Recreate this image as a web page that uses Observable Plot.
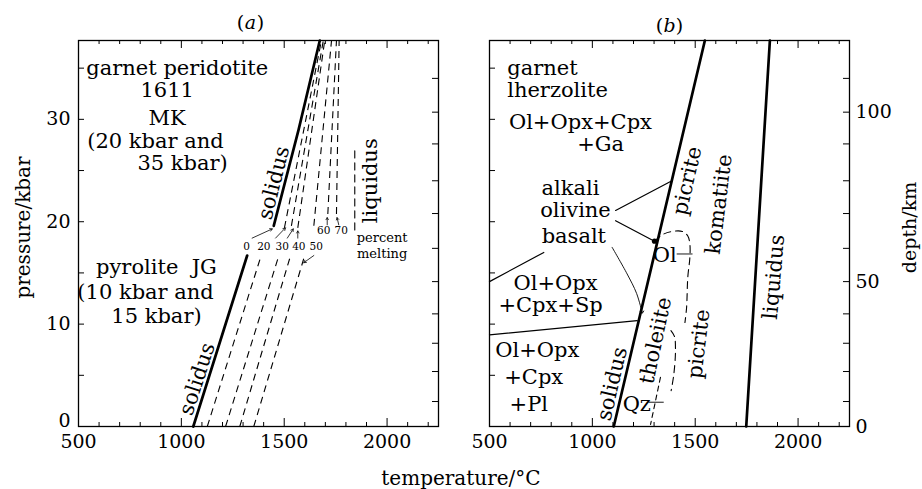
<!DOCTYPE html>
<html><head><meta charset="utf-8">
<script src="https://cdn.jsdelivr.net/npm/d3@7"></script>
<script src="https://cdn.jsdelivr.net/npm/@observablehq/plot@0.6"></script>
<style>
body{margin:0;background:#fff;}
#wrap{position:relative;width:922px;height:489px;background:#fff;font-family:"DejaVu Serif",serif;color:#000;}
#wrap svg{position:absolute;top:0;}
#xlab{position:absolute;left:0;width:922px;top:467px;text-align:center;font-size:20px;line-height:22px;}
</style></head>
<body><div id="wrap"><div id="xlab">temperature/°C</div></div>
<script>
// ---------- axes / ticks ----------
const tempDomain = [500, 2250];
const presDomain = [0, 37.7];
const tempLabels = [500, 1000, 1500, 2000];
const tempMajor = [1000, 1500, 2000];
const tempMinor = [600, 700, 800, 900, 1100, 1200, 1300, 1400, 1600, 1700, 1800, 1900, 2100, 2200];
const presTicks = [5, 10, 15, 20, 25, 30, 35];
const presLabels = [10, 20, 30];
const presZeroLabel = [0];
const depthKm = [0, 10, 20, 30, 40, 50, 60, 70, 80, 90, 100, 110];
const depthKbar = [0, 2.44, 5.37, 8.13, 11.0, 14.15, 17.4, 20.8, 24.0, 27.6, 30.7, 34.0];
const depthLabels = [0, 50, 100];

// ---------- panel (a) ----------
const solidusJG = [[1058, 0], [1320, 16.7]];
const solidusMK = [[1449, 19.6], [1570, 29], [1673, 37.7]];
const jgPct = [20, 30, 40, 50];
const jgBaseT = [1126, 1215, 1284, 1352];
const jgTopT = [1388, 1474, 1531, 1595];
const jgTopP = [16.7, 16.7, 16.7, 16.4];
const mkPct = [20, 30, 40, 50, 60, 70];
const mkLowT = [1501, 1535, 1566, 1644, 1712, 1754];
const mkLowP = [19.4, 19.6, 19.4, 19.6, 20.75, 20.75];
const mkTopT = [1681, 1690, 1697, 1730, 1754, 1767];
const liquidusA = [[1843, 19.2], [1843, 27.3]];
const pctLabels = ["0", "20", "30", "40", "50", "60", "70"];
const pctLabelT = [1317, 1401, 1490, 1571, 1656, 1692, 1777];
const pctLabelP = [17.56, 17.56, 17.56, 17.56, 17.56, 19.1, 19.1];
const pctArrowFrom = [[1344, 18.4], [1458, 18.4], [1515, 18.4], [1566, 18.4], [1644, 16.7], [1709, 19.7], [1765, 19.7]];
const pctArrowTo = [[1442, 19.3], [1506, 19.4], [1544, 19.3], [1566, 19.1], [1595, 16.0], [1709, 20.4], [1757, 20.4]];
const textA = [
  {t: "garnet peridotite", T: 980, P: 35.0},
  {t: "1611", T: 931, P: 32.8},
  {t: "MK", T: 931, P: 30.1},
  {t: "(20 kbar and", T: 874, P: 27.9},
  {t: "35 kbar)", T: 1006, P: 25.7},
  {t: "pyrolite  JG", T: 879, P: 15.6},
  {t: "(10 kbar and", T: 826, P: 13.1},
  {t: "15 kbar)", T: 879, P: 10.8}
];
const rotTextA = [
  {t: "solidus", T: 1449, P: 23.8, r: -76},
  {t: "solidus", T: 1077, P: 4.65, r: -72},
  {t: "liquidus", T: 1920, P: 24.0, r: -90}
];
const smallTextA = [{t: "percent", T: 1976, P: 18.47}, {t: "melting", T: 1976, P: 16.85}];

// ---------- panel (b) ----------
const solidusB = [[1104, 0], [1547, 37.7]];
const liquidusB = [[1748, 0], [1863, 37.7]];
const gtSpLeft = [[500, 14.15], [764, 17.0]];
const gtSpRight = [[1113, 21.1], [1387, 24.0]];
const olPointer = [[1113, 20.1], [1302, 18.1]];
const olDot = [[1302, 18.1]];
const spPl = [[500, 8.95], [1218, 10.34]];
const basaltPointer = [[1096, 17.5], [1169, 14.9], [1215, 13.0], [1242, 11.15]];
const olCurve = [[1302, 18.1], [1347, 18.8], [1388, 19.05], [1437, 19.05], [1464, 18.6], [1474, 17.8], [1474, 16.5], [1464, 14.6], [1458, 11.6], [1450, 10.15]];
const picCurve = [[1382, 9.37], [1399, 8.8], [1404, 7.4], [1396, 5.1], [1383, 3.5]];
const qzCurve = [[1331, 4.8], [1283, 0.2]];
const olLeader = [[1412, 16.85], [1485, 16.85]];
const qzLeader = [[1274, 2.37], [1345, 2.37]];
const textB = [
  {t: "Ol+Opx+Cpx", T: 942, P: 29.75},
  {t: "+Ga", T: 1040, P: 27.55},
  {t: "alkali", T: 894, P: 23.3},
  {t: "olivine", T: 918, P: 21.1},
  {t: "basalt", T: 910, P: 18.6},
  {t: "Ol+Opx", T: 821, P: 13.95},
  {t: "+Cpx+Sp", T: 797, P: 11.8},
  {t: "Ol+Opx", T: 732, P: 7.4},
  {t: "+Cpx", T: 715, P: 4.8},
  {t: "+Pl", T: 691, P: 2.2},
  {t: "Ol", T: 1352, P: 16.7},
  {t: "Qz", T: 1216, P: 2.2}
];
const textBLeft = [{t: "garnet", T: 586, P: 35.0}, {t: "lherzolite", T: 586, P: 32.8}];
const rotTextB = [
  {t: "picrite", T: 1461, P: 24.0, r: -77},
  {t: "komatiite", T: 1615, P: 21.7, r: -83},
  {t: "tholeiite", T: 1307, P: 8.4, r: -78},
  {t: "picrite", T: 1517, P: 8.07, r: -83},
  {t: "liquidus", T: 1882, P: 14.6, r: -85},
  {t: "solidus", T: 1096, P: 4.17, r: -77}
];

// ---------- helpers ----------
const FONT = "DejaVu Serif";
const innerW = 360, innerH = 386;
const X = d => d[0], Y = d => d[1];
function frameMarks() {
  return [
    Plot.frame({strokeWidth: 1.3}),
    Plot.tickX(tempMinor, {x: d => d, insetTop: innerH - 4}),
    Plot.tickX(tempMajor, {x: d => d, insetTop: innerH - 8}),
    Plot.tickX(tempMinor, {x: d => d, insetBottom: innerH - 4}),
    Plot.tickX(tempMajor, {x: d => d, insetBottom: innerH - 8}),
    Plot.tickY(presTicks, {y: d => d, insetRight: innerW - 6}),
    Plot.tickY(depthKbar.slice(1), {y: d => d, insetLeft: innerW - 6}),
    Plot.axisX({ticks: tempLabels, anchor: "bottom", tickSize: 0, tickPadding: 8, fontSize: 19, fontFamily: FONT, label: null, tickFormat: d => String(d)})
  ];
}
function panel(ml, mr, marks) {
  return Plot.plot({
    width: 461, height: 489, marginLeft: ml, marginRight: mr, marginTop: 40, marginBottom: 63,
    x: {domain: tempDomain},
    y: {domain: presDomain},
    style: {fontFamily: FONT, fontSize: "18px", color: "black", background: "transparent", overflow: "visible"},
    marks
  });
}
function title(letter, dx, dy) {
  const o = {text: d => d, frameAnchor: "top", dy, fontSize: 19, fontFamily: FONT, lineAnchor: "middle", textAnchor: "middle"};
  return [
    Plot.text(["("], {...o, dx: dx - 10}),
    Plot.text([letter], {...o, dx, fontStyle: "italic"}),
    Plot.text([")"], {...o, dx: dx + 10})
  ];
}

// ---------- panel (a) ----------
const jgSegs = jgPct.map((p, i) => ({x1: jgBaseT[i], y1: 0, x2: jgTopT[i], y2: jgTopP[i]}));
const mkSegs = mkPct.map((p, i) => ({x1: mkLowT[i], y1: mkLowP[i], x2: mkTopT[i], y2: presDomain[1]}));
const pctData = pctLabels.map((t, i) => ({t, T: pctLabelT[i], P: pctLabelP[i],
  x1: pctArrowFrom[i][0], y1: pctArrowFrom[i][1], x2: pctArrowTo[i][0], y2: pctArrowTo[i][1]}));

const plotA = panel(78, 23, [
  ...frameMarks(),
  Plot.axisY({ticks: presLabels, anchor: "left", tickSize: 0, tickPadding: 8, fontSize: 19, fontFamily: FONT, label: null}),
  Plot.axisY({ticks: presZeroLabel, anchor: "left", tickSize: 0, tickPadding: 8, dy: -6, fontSize: 19, fontFamily: FONT, label: null}),
  Plot.line(solidusJG, {x: X, y: Y, strokeWidth: 2.7}),
  Plot.line(solidusMK, {x: X, y: Y, strokeWidth: 2.7}),
  Plot.link(jgSegs, {x1: "x1", y1: "y1", x2: "x2", y2: "y2", strokeWidth: 1.1, strokeDasharray: "7,5"}),
  Plot.link(mkSegs, {x1: "x1", y1: "y1", x2: "x2", y2: "y2", strokeWidth: 1.1, strokeDasharray: "7,5"}),
  Plot.line(liquidusA, {x: X, y: Y, strokeWidth: 1.1, strokeDasharray: "7,5"}),
  Plot.arrow(pctData, {x1: "x1", y1: "y1", x2: "x2", y2: "y2", strokeWidth: 0.8, headLength: 5,
    strokeDasharray: (d, i) => i === 0 ? "3,2" : null}),
  Plot.text(pctData, {x: "T", y: "P", text: "t", fontSize: 10.5, fontFamily: FONT}),
  Plot.text(smallTextA, {x: "T", y: "P", text: "t", fontSize: 13, fontFamily: FONT}),
  Plot.text(textA, {x: "T", y: "P", text: "t", fontSize: 21, fontFamily: FONT}),
  Plot.text(rotTextA, {x: "T", y: "P", text: "t", rotate: "r", fontSize: 21, fontFamily: FONT}),
  ...title("a", -8, -18),
  Plot.text(["pressure/kbar"], {text: d => d, frameAnchor: "left", textAnchor: "middle", lineAnchor: "middle", dx: -55, dy: -6, rotate: -90, fontSize: 20, fontFamily: FONT})
]);

// ---------- panel (b) ----------
const plotB = panel(28, 73, [
  ...frameMarks(),
  Plot.axisY({ticks: depthLabels.map(k => depthKbar[depthKm.indexOf(k)]), anchor: "right", tickSize: 0, tickPadding: 6,
    fontSize: 19, fontFamily: FONT, label: null, tickFormat: p => String(depthKm[depthKbar.indexOf(p)])}),
  Plot.line(solidusB, {x: X, y: Y, strokeWidth: 2.7}),
  Plot.line(liquidusB, {x: X, y: Y, strokeWidth: 2.7}),
  Plot.line(gtSpLeft, {x: X, y: Y, strokeWidth: 1.2}),
  Plot.line(gtSpRight, {x: X, y: Y, strokeWidth: 1.2}),
  Plot.line(olPointer, {x: X, y: Y, strokeWidth: 1.2}),
  Plot.line(spPl, {x: X, y: Y, strokeWidth: 1.2}),
  Plot.line(basaltPointer, {x: X, y: Y, strokeWidth: 0.9, curve: "catmull-rom", markerEnd: "arrow"}),
  Plot.dot(olDot, {x: X, y: Y, r: 2.6, fill: "black"}),
  Plot.line(olCurve, {x: X, y: Y, strokeWidth: 1.1, curve: "catmull-rom", strokeDasharray: "7,5"}),
  Plot.line(picCurve, {x: X, y: Y, strokeWidth: 1.1, curve: "catmull-rom", strokeDasharray: "7,5"}),
  Plot.line(qzCurve, {x: X, y: Y, strokeWidth: 1.1, strokeDasharray: "5,4"}),
  Plot.line(olLeader, {x: X, y: Y, strokeWidth: 0.9}),
  Plot.line(qzLeader, {x: X, y: Y, strokeWidth: 0.9}),
  Plot.text(textB, {x: "T", y: "P", text: "t", fontSize: 21, fontFamily: FONT}),
  Plot.text(textBLeft, {x: "T", y: "P", text: "t", fontSize: 21, fontFamily: FONT, textAnchor: "start"}),
  Plot.text(rotTextB, {x: "T", y: "P", text: "t", rotate: "r", fontSize: 21, fontFamily: FONT}),
  ...title("b", 0, -15),
  Plot.text(["depth/km"], {text: d => d, frameAnchor: "right", textAnchor: "middle", lineAnchor: "middle", dx: 60, dy: -6, rotate: -90, fontSize: 19, fontFamily: FONT})
]);

const wrap = document.getElementById("wrap");
plotA.style.left = "0px";
plotB.style.left = "461px";
wrap.appendChild(plotA);
wrap.appendChild(plotB);
</script>
</body></html>
